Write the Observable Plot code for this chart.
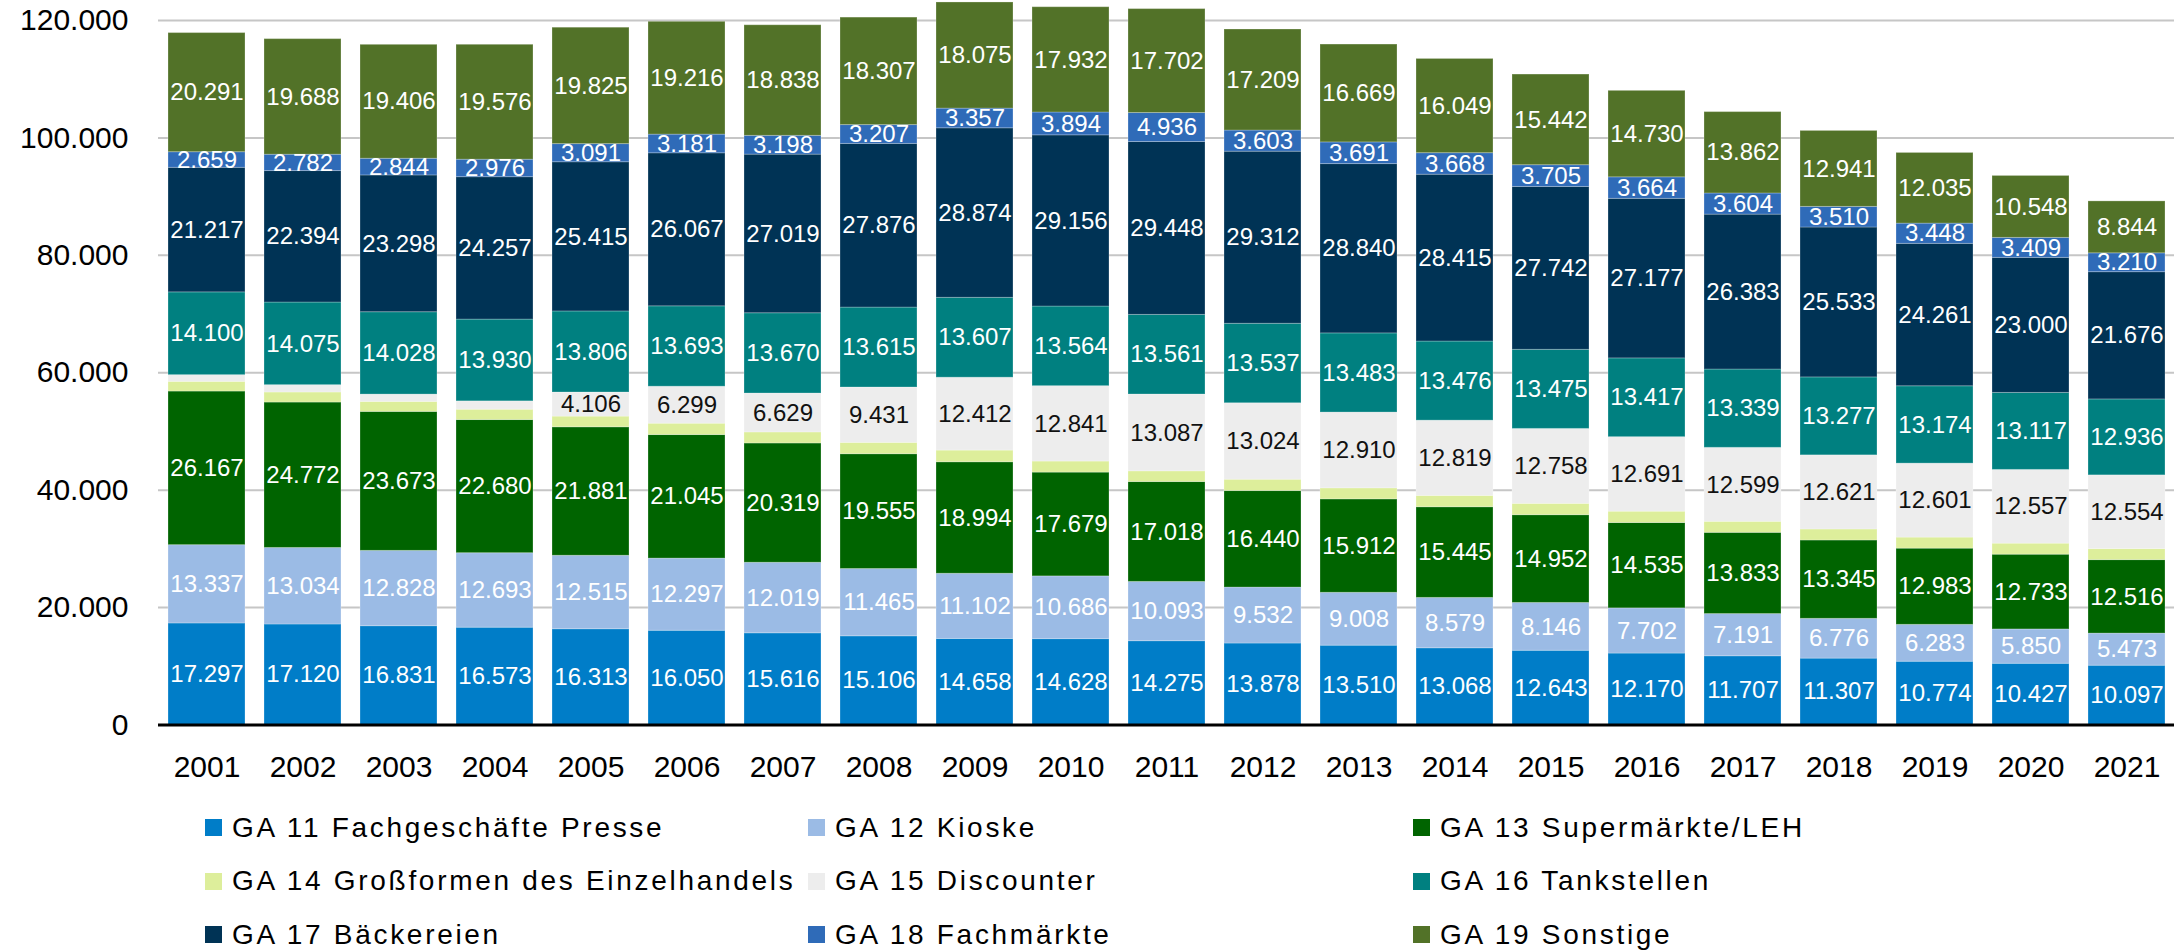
<!DOCTYPE html>
<html><head><meta charset="utf-8">
<script src="https://cdn.jsdelivr.net/npm/d3@7"></script>
<script src="https://cdn.jsdelivr.net/npm/@observablehq/plot@0.6"></script>
<style>
body{margin:0;background:#fff;font-family:"Liberation Sans",Arial,sans-serif;}
#chart{position:relative;width:2176px;height:951px;overflow:hidden;}
#legend{position:absolute;left:0;top:795px;width:2176px;height:156px;}
.item{position:absolute;display:flex;align-items:center;font-size:28px;letter-spacing:2.7px;color:#000;white-space:nowrap;height:40px;}
.sw{width:17px;height:17px;margin-right:10px;flex:none;}
</style></head><body><div id="chart"><div id="plot"></div><div id="legend"></div></div><script>
const years = ["2001","2002","2003","2004","2005","2006","2007","2008","2009","2010","2011","2012","2013","2014","2015","2016","2017","2018","2019","2020","2021"];
const seriesNames = ["GA 11 Fachgeschäfte Presse","GA 12 Kioske","GA 13 Supermärkte/LEH","GA 14 Großformen des Einzelhandels","GA 15 Discounter","GA 16 Tankstellen","GA 17 Bäckereien","GA 18 Fachmärkte","GA 19 Sonstige"];
const seriesColors = ["#007dc8","#9bbbe5","#006400","#ddee9b","#ededed","#008080","#003355","#2f6bb8","#527228"];
const ga11 = [17297,17120,16831,16573,16313,16050,15616,15106,14658,14628,14275,13878,13510,13068,12643,12170,11707,11307,10774,10427,10097];
const ga12 = [13337,13034,12828,12693,12515,12297,12019,11465,11102,10686,10093,9532,9008,8579,8146,7702,7191,6776,6283,5850,5473];
const ga13 = [26167,24772,23673,22680,21881,21045,20319,19555,18994,17679,17018,16440,15912,15445,14952,14535,13833,13345,12983,12733,12516];
const ga14 = [1650,1710,1700,1760,1820,1930,1880,1930,1990,1880,1820,1930,1880,1930,1930,1930,1880,1880,1880,1880,1880];
const ga15 = [1140,1250,1250,1420,4106,6299,6629,9431,12412,12841,13087,13024,12910,12819,12758,12691,12599,12621,12601,12557,12554];
const ga16 = [14100,14075,14028,13930,13806,13693,13670,13615,13607,13564,13561,13537,13483,13476,13475,13417,13339,13277,13174,13117,12936];
const ga17 = [21217,22394,23298,24257,25415,26067,27019,27876,28874,29156,29448,29312,28840,28415,27742,27177,26383,25533,24261,23000,21676];
const ga18 = [2659,2782,2844,2976,3091,3181,3198,3207,3357,3894,4936,3603,3691,3668,3705,3664,3604,3510,3448,3409,3210];
const ga19 = [20291,19688,19406,19576,19825,19216,18838,18307,18075,17932,17702,17209,16669,16049,15442,14730,13862,12941,12035,10548,8844];
const yTicks = [0,20000,40000,60000,80000,100000,120000];

const seriesValues = [ga11,ga12,ga13,ga14,ga15,ga16,ga17,ga18,ga19];
const rows = [];
seriesNames.forEach((s,i)=> years.forEach((y,j)=> rows.push({year:y, series:s, value:seriesValues[i][j]})));
const fmt = v => String(v).replace(/\B(?=(\d{3})+(?!\d))/g, ".");
const DISC = seriesNames[4];
const FONT = '"Liberation Sans", Arial, sans-serif';

const plot = Plot.plot({
  width:2176, height:795, marginTop:20, marginBottom:70.5, marginLeft:158, marginRight:2,
  style:{fontFamily:FONT, fontSize:"30px", color:"#000", background:"#fff"},
  x:{type:"band", domain:years, paddingInner:0.2, paddingOuter:0.1, label:null},
  y:{domain:[0,120000], label:null},
  color:{domain:seriesNames, range:seriesColors},
  marks:[
    Plot.gridY(yTicks.slice(1), {stroke:"#c6c6c6", strokeWidth:2, strokeOpacity:1}),
    Plot.barY(rows, {x:"year", y:"value", z:"series", fill:"series", stroke:"#fff", strokeOpacity:0.25, strokeWidth:1}),
    Plot.text(rows, Plot.stackY({x:"year", y:"value", z:"series",
      text: d => (d.series !== DISC && d.value >= 2500) ? fmt(d.value) : null,
      fill:"#fff", fontSize:24, fontFamily:FONT})),
    Plot.text(rows, Plot.stackY({x:"year", y:"value", z:"series",
      text: d => (d.series === DISC && d.value >= 2500) ? fmt(d.value) : null,
      fill:"#111", fontSize:24, fontFamily:FONT})),
    Plot.ruleY([0], {stroke:"#000", strokeWidth:3}),
    Plot.axisX({tickSize:0, tickPadding:31, fontSize:30, label:null}),
    Plot.axisY({ticks:yTicks, tickSize:0, tickPadding:30, tickFormat:fmt, fontSize:30, label:null})
  ]
});
document.getElementById("plot").appendChild(plot);

const legend = document.getElementById("legend");
const colX = [205, 808, 1413];
const rowC = [827.5, 881, 934.5];
seriesNames.forEach((s,i)=>{
  const it = document.createElement("div");
  it.className = "item";
  it.style.left = colX[i%3] + "px";
  it.style.top = (rowC[Math.floor(i/3)] - 795 - 20) + "px";
  const sw = document.createElement("span");
  sw.className = "sw"; sw.style.background = seriesColors[i];
  const tx = document.createElement("span");
  tx.textContent = s;
  it.appendChild(sw); it.appendChild(tx);
  legend.appendChild(it);
});
</script></body></html>
